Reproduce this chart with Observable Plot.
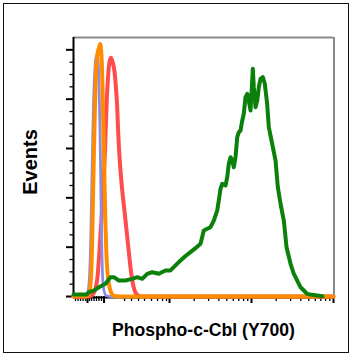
<!DOCTYPE html>
<html>
<head>
<meta charset="utf-8">
<script src="https://cdn.jsdelivr.net/npm/d3@7"></script>
<script src="https://cdn.jsdelivr.net/npm/@observablehq/plot@0.6"></script>
<style>
  html, body { margin: 0; padding: 0; background: #fff; }
  #wrap { position: relative; width: 351px; height: 356px; overflow: hidden; }
  #wrap svg { position: absolute; left: 0; top: 0; overflow: visible; }
  #border { position: absolute; left: 3px; top: 3px; width: 346px; height: 350px; border: 1.5px solid #111; box-sizing: border-box; pointer-events: none; }
</style>
</head>
<body>
<div id="wrap"><div id="border"></div></div>
<script>
// ---- data (x stored as log10 of fluorescence intensity, y = event counts) ----
const xLabel = "Phospho-c-Cbl (Y700)";
const yLabel = "Events";

const greenLog = [0.829, 0.988, 1.016, 1.077, 1.138, 1.220, 1.280, 1.321, 1.382, 1.463, 1.545, 1.606, 1.667, 1.728, 1.789, 1.870, 1.951, 2.012, 2.052, 2.113, 2.134, 2.195, 2.256, 2.317, 2.378, 2.418, 2.460, 2.500, 2.540, 2.582, 2.601, 2.622, 2.643, 2.683, 2.704, 2.723, 2.744, 2.765, 2.784, 2.805, 2.826, 2.845, 2.866, 2.887, 2.906, 2.927, 2.948, 2.967, 2.988, 3.000, 3.016, 3.028, 3.049, 3.070, 3.089, 3.110, 3.138, 3.162, 3.191, 3.211, 3.252, 3.293, 3.321, 3.354, 3.394, 3.427, 3.476, 3.516, 3.537, 3.577, 3.598, 3.638, 3.679, 3.720, 3.801, 3.866];
const greenCount = [2, 2, 4.4, 6, 9.4, 12.9, 19.6, 19.6, 16.2, 16.2, 17.9, 19.6, 17.9, 23, 24.6, 23, 26.4, 26.4, 29.7, 34.8, 36.5, 41, 45, 49, 53.4, 66.9, 68.6, 70.2, 77, 87.2, 97.3, 109.2, 114.2, 112.5, 120.9, 134.5, 141.2, 137.8, 131, 141.2, 161.5, 166.5, 168.2, 178.4, 185.2, 202, 205.4, 198.6, 188.5, 205.4, 230.8, 212.1, 191.9, 198.6, 212.1, 220.6, 222.3, 215.6, 195.3, 171.6, 154.8, 137.8, 110.8, 94, 77, 50, 33.1, 23, 19.6, 12.9, 9.4, 6.1, 2.7, 2, 1, 0.3];

const redLog = [0.829, 1.012, 1.049, 1.085, 1.122, 1.146, 1.171, 1.195, 1.213, 1.235, 1.250, 1.268, 1.287, 1.305, 1.329, 1.348, 1.360, 1.372, 1.384, 1.415, 1.457, 1.500, 1.537, 1.561, 1.585, 1.622, 1.683, 4.0];
const redCount = [0, 0, 1, 5, 20, 47, 80, 114, 147, 200, 222, 238, 242, 238, 228, 210, 195, 170, 150, 115, 82, 48, 21, 10, 4, 1, 0, 0];

const blueLog = [0.829, 0.976, 0.994, 1.012, 1.024, 1.037, 1.049, 1.061, 1.073, 1.091, 1.110, 1.128, 1.140, 1.152, 1.161, 1.168, 1.177, 1.185, 1.201, 1.226, 1.280, 4.0];
const blueCount = [0, 0, 2, 8, 20, 50, 100, 150, 195, 232, 245, 240, 215, 170, 120, 75, 40, 18, 6, 1, 0, 0];

const orangeLog = [0.829, 0.988, 1.012, 1.030, 1.043, 1.055, 1.067, 1.079, 1.091, 1.104, 1.122, 1.140, 1.155, 1.167, 1.179, 1.191, 1.204, 1.216, 1.228, 1.244, 1.268, 1.293, 1.329, 1.402, 4.0];
const orangeCount = [0, 0, 2, 8, 20, 50, 100, 150, 195, 228, 246, 252, 256, 248, 225, 180, 130, 82, 48, 24, 10, 3, 0.5, 0, 0];

// axis ticks (fluorescence / counts)
const xMajorTicks = [10, 15.9, 100, 1000, 10000];
const xMinorTicks = [7.14, 7.66, 8.22, 8.81, 9.46, 10.57, 11.19, 12.0, 12.88, 13.8, 14.8, 28.3, 34.4, 41.9, 49.6, 60.3, 71.4, 82.2, 91.9, 200, 300, 400, 500, 600, 700, 800, 900, 2000, 3000, 4000, 5000, 6000, 7000, 8000, 9000];
const yMajorTicks = [0, 50, 100, 150, 200, 250];
const yMinorTicks = [12.5, 25, 37.5, 62.5, 75, 87.5, 112.5, 125, 137.5, 162.5, 175, 187.5, 212.5, 225, 237.5];

const xDomain = [10 ** 0.829, 10000];
const yDomain = [0, 262.5];

// ---- build ----
const toRows = (logs, counts) => logs.map((l, i) => ({x: 10 ** l, y: counts[i]}));
const green = toRows(greenLog, greenCount);
const red = toRows(redLog, redCount);
const blue = toRows(blueLog, blueCount);
const orange = toRows(orangeLog, orangeCount);

const font = "'Liberation Sans', Arial, Helvetica, sans-serif";
const noText = () => "";

const chart = Plot.plot({
  width: 351,
  height: 356,
  marginLeft: 73,
  marginRight: 18,
  marginTop: 37,
  marginBottom: 60,
  style: {background: "transparent", fontFamily: font},
  x: {type: "log", domain: xDomain},
  y: {domain: yDomain},
  marks: [
    // frame: gray top/right, black left/bottom
    Plot.ruleY([yDomain[1]], {stroke: "#8a8a8a", strokeWidth: 2}),
    Plot.ruleX([xDomain[1]], {stroke: "#8a8a8a", strokeWidth: 2, dx: 0.5}),
    Plot.axisY(yMajorTicks, {tickSize: 7, tickFormat: noText, label: null, stroke: "#000", strokeWidth: 2}),
    Plot.axisY(yMinorTicks, {tickSize: 3.5, tickFormat: noText, label: null, stroke: "#000", strokeWidth: 1.3}),
    Plot.axisX(xMajorTicks, {tickSize: 7, tickFormat: noText, label: null, stroke: "#000", strokeWidth: 2}),
    Plot.axisX(xMinorTicks, {tickSize: 5, tickFormat: noText, label: null, stroke: "#000", strokeWidth: 1.3}),
    Plot.ruleY([0], {stroke: "#000", strokeWidth: 2, dy: 1}),
    Plot.ruleX([xDomain[0]], {stroke: "#000", strokeWidth: 2, y1: 0, y2: yDomain[1]}),
    // histograms
    Plot.line(red, {x: "x", y: "y", stroke: "#ff4d4d", strokeWidth: 4, curve: "monotone-x", strokeLinejoin: "round"}),
    Plot.line(blue, {x: "x", y: "y", stroke: "#8c8ce6", strokeWidth: 2.8, curve: "monotone-x", strokeLinejoin: "round"}),
    Plot.line(orange, {x: "x", y: "y", stroke: "#ff8c00", strokeWidth: 4, curve: "monotone-x", strokeLinejoin: "round"}),
    Plot.line(green, {x: "x", y: "y", stroke: "#0b800b", strokeWidth: 4, curve: "linear", strokeLinejoin: "round"}),
    // labels
    Plot.text([xLabel], {text: d => d, frameAnchor: "bottom", dy: 34, fontSize: 17.6, fontWeight: "bold", fill: "#000", lineAnchor: "middle"}),
    Plot.text([yLabel], {text: d => d, frameAnchor: "left", dx: -43, dy: -5, rotate: -90, fontSize: 20, fontWeight: "bold", fill: "#000", lineAnchor: "middle", textAnchor: "middle"})
  ]
});

document.getElementById("wrap").insertBefore(chart, document.getElementById("border"));
</script>
</body>
</html>
